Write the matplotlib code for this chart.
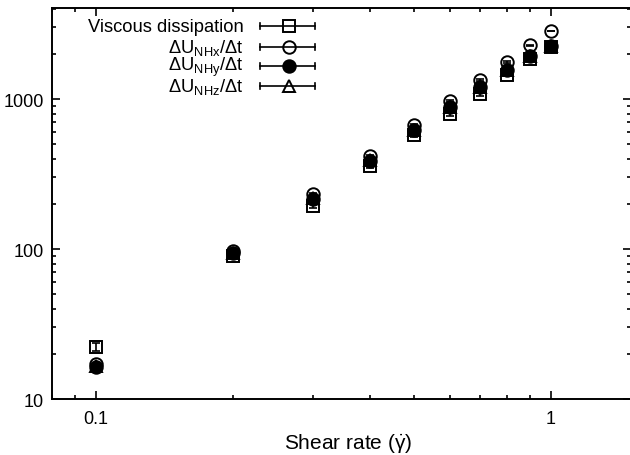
import numpy as np
import matplotlib.pyplot as plt
from matplotlib.lines import Line2D

plt.rcParams['font.family'] = ['Liberation Sans', 'DejaVu Sans']
plt.rcParams['mathtext.fontset'] = 'custom'
plt.rcParams['mathtext.rm'] = 'Liberation Sans'
plt.rcParams['mathtext.it'] = 'Liberation Sans:italic'

# tasa de corte
shear = [0.1, 0.2, 0.3, 0.4, 0.5, 0.6, 0.7, 0.8, 0.9, 1.0]

# disipacion viscosa y variaciones de energia por componente
viscous = [22.2, 90, 193, 357, 575, 794, 1080, 1445, 1848, 2220]
viscous_err = [1.3, 3, 6, 10, 15, 20, 25, 30, 35, 40]
du_nhx = [17.0, 97, 233, 417, 671, 970, 1339, 1765, 2290, 2840]
du_nhy = [16.4, 94, 215, 386, 621, 884, 1200, 1560, 1940, 2250]
du_nhz = [16.6, 94, 218, 390, 625, 890, 1210, 1570, 1950, 2260]
err_small = [0.4, 2, 4, 6, 8, 10, 12, 14, 16, 18]

labels = ['Viscous dissipation',
          r'$\Delta\mathrm{U}_{\mathrm{NHx}}/\Delta\mathrm{t}$',
          r'$\Delta\mathrm{U}_{\mathrm{NHy}}/\Delta\mathrm{t}$',
          r'$\Delta\mathrm{U}_{\mathrm{NHz}}/\Delta\mathrm{t}$']

fig = plt.figure(figsize=(6.3, 4.56), dpi=100)
ax = fig.add_axes([0.0825, 0.1228, 0.9191, 0.8575])

estilos = [dict(marker='s', mfc='none'),
           dict(marker='o', mfc='none'),
           dict(marker='o', mfc='black'),
           dict(marker='^', mfc='none')]
series = [(viscous, viscous_err), (du_nhx, err_small), (du_nhy, err_small), (du_nhz, err_small)]

for (y, e), st in zip(series, estilos):
    ax.errorbar(shear, y, yerr=e, fmt='none', ecolor='black', elinewidth=1.2,
                capsize=3, capthick=1.2)
    ax.plot(shear, y, linestyle='none', color='black', mec='black',
            ms=9, mew=1.4, **st)

ax.set_xscale('log')
ax.set_yscale('log')
ax.set_xlim(0.08, 1.5)
ax.set_ylim(10, 4045)

ax.set_xticks([0.1, 1])
ax.set_xticklabels(['0.1', '1'])
ax.set_yticks([10, 100, 1000])
ax.set_yticklabels(['10', '100', '1000'])

ax.tick_params(which='both', direction='in', top=True, right=True, labelsize=13,
               width=1.2)
ax.tick_params(which='major', length=6)
ax.tick_params(which='minor', length=3)
ax.tick_params(axis='x', which='major', pad=8)
ax.tick_params(axis='y', which='major', pad=6)
for s in ax.spines.values():
    s.set_linewidth(1.4)

ax.set_xlabel(r'Shear rate ($\mathrm{\dot{\gamma}}$)', fontsize=15)
ax.xaxis.set_label_coords(0.512, -0.082)

# leyenda armada a mano, estilo gnuplot
x_txt = 0.331
x0, x1, xm = 0.360, 0.455, 0.409
fila_y = [0.953, 0.900, 0.851, 0.800]
for lab, st, yy in zip(labels, estilos, fila_y):
    ax.text(x_txt, yy, lab, transform=ax.transAxes, ha='right', va='center',
            fontsize=13.2)
    ax.add_line(Line2D([x0, x1], [yy, yy], transform=ax.transAxes, color='black', lw=1.2))
    for xc in (x0, x1):
        ax.add_line(Line2D([xc, xc], [yy - 0.008, yy + 0.008], transform=ax.transAxes,
                           color='black', lw=1.2))
    ax.add_line(Line2D([xm], [yy], transform=ax.transAxes, color='black', mec='black',
                       ms=9, mew=1.4, linestyle='none', **st))

plt.savefig('out.png', dpi=100)
